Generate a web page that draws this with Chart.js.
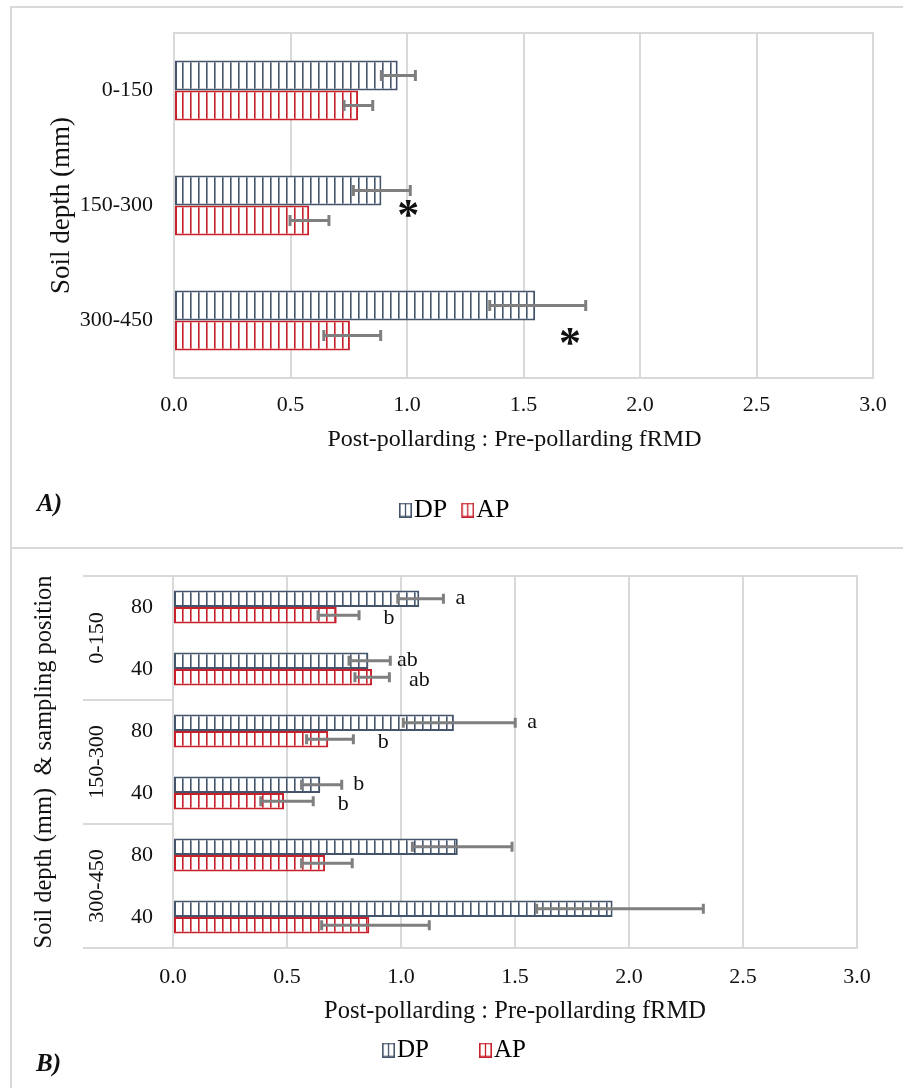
<!DOCTYPE html>
<html>
<head>
<meta charset="utf-8">
<script src="https://cdn.jsdelivr.net/npm/chart.js@4.4.1/dist/chart.umd.min.js"></script>
<style>
  html, body { margin: 0; padding: 0; background: #fff; }
  body { width: 903px; height: 1088px; position: relative; overflow: hidden; }
  .panel { position: absolute; box-sizing: border-box; border: 0 solid #D9D9D9; }
  #panelA { left: 10px; top: 6px; width: 900px; height: 543px; border-width: 2px 0 2px 2px; }
  #panelB { left: 10px; top: 548px; width: 900px; height: 560px; border-width: 0 0 0 2px; }
  canvas { position: absolute; left: 0; }
  #chartA { top: 0; }
  #chartB { top: 548px; }
  .tag { position: absolute; font: italic bold 25px "Liberation Serif", "Times New Roman", serif; color: #111; line-height: 25px; }
</style>
</head>
<body>
<div class="panel" id="panelA"></div>
<div class="panel" id="panelB"></div>
<canvas id="chartA" width="903" height="548"></canvas>
<canvas id="chartB" width="903" height="540"></canvas>
<div class="tag" style="left:37px; top:490px;">A)</div>
<div class="tag" style="left:36px; top:1050px;">B)</div>
<script>
// ---- Panel A: ratio by soil depth ----
const depthLabels = ['0-150', '150-300', '300-450'];
const dpA      = [0.96, 0.89, 1.55];
const dpAMinus = [0.070, 0.120, 0.195];
const dpAPlus  = [0.076, 0.124, 0.217];
const apA      = [0.79, 0.58, 0.755];
const apAMinus = [0.060, 0.082, 0.112];
const apAPlus  = [0.063, 0.085, 0.132];
// significance stars: category index and x value where each sits
const starCats   = [1, 2];
const starValues = [1.005, 1.70];

// ---- Panel B: ratio by soil depth and sampling position ----
const depthGroups    = ['0-150', '150-300', '300-450'];
const positionLabels = ['80', '40', '80', '40', '80', '40'];
const dpB      = [1.080, 0.857, 1.232, 0.646, 1.249, 1.928];
const dpBMinus = [0.094, 0.085, 0.222, 0.082, 0.199, 0.333];
const dpBPlus  = [0.106, 0.096, 0.269, 0.094, 0.238, 0.398];
const apB      = [0.718, 0.873, 0.681, 0.487, 0.667, 0.861];
const apBMinus = [0.082, 0.075, 0.095, 0.102, 0.103, 0.209];
const apBPlus  = [0.098, 0.076, 0.110, 0.128, 0.119, 0.263];
const dpLetters = ['a', 'ab', 'a', 'b', '', ''];
const apLetters = ['b', 'ab', 'b', 'b', '', ''];

const seriesNames = ['DP', 'AP'];
const xMin = 0, xMax = 3, xStep = 0.5;
const xTitle = 'Post-pollarding : Pre-pollarding fRMD';

// ---- styling ----
const SERIF = '"Liberation Serif", "Times New Roman", serif';
const TEXT = '#111111';
const GRID = '#D9D9D9';
const DP_COLOR = '#44546A';
const AP_COLOR = '#C8202B';
const ERR_COLOR = '#7F7F7F';
const seriesColors = [DP_COLOR, AP_COLOR];
Chart.defaults.font.family = SERIF;
Chart.defaults.color = TEXT;

function stripePattern(color) {
  const tile = document.createElement('canvas');
  tile.width = 8; tile.height = 8;
  const g = tile.getContext('2d');
  g.fillStyle = '#ffffff';
  g.fillRect(0, 0, 8, 8);
  g.fillStyle = color;
  g.fillRect(6, 0, 1.6, 8);
  return g.createPattern(tile, 'repeat');
}

// legend key: small striped box sitting at the right end of a wider transparent canvas
function legendSwatch(color, width) {
  const c = document.createElement('canvas');
  c.width = width; c.height = 15;
  const g = c.getContext('2d');
  const x0 = width - 13;
  g.fillStyle = '#ffffff';
  g.fillRect(x0, 0, 13, 15);
  g.strokeStyle = color;
  g.lineWidth = 1.6;
  g.strokeRect(x0 + 0.8, 0.8, 11.4, 13.4);
  g.lineWidth = 1.3;
  g.beginPath(); g.moveTo(x0 + 6.5, 1); g.lineTo(x0 + 6.5, 14); g.stroke();
  return c;
}

function barSet(label, data, minus, plus, color, letters) {
  return {
    label, data, errMinus: minus, errPlus: plus, letters: letters || [],
    backgroundColor: stripePattern(color),
    borderColor: color, borderWidth: 2, borderSkipped: false
  };
}

// error bars (asymmetric) drawn through the x scale
const errorBars = {
  id: 'errorBars',
  afterDatasetsDraw(chart, args, opts) {
    const ctx = chart.ctx, xs = chart.scales.x, cap = opts.cap || 10;
    ctx.save();
    ctx.strokeStyle = ERR_COLOR;
    ctx.lineWidth = 3;
    chart.data.datasets.forEach((ds, i) => {
      chart.getDatasetMeta(i).data.forEach((bar, j) => {
        const v = ds.data[j];
        const lo = xs.getPixelForValue(v - ds.errMinus[j]);
        const hi = xs.getPixelForValue(v + ds.errPlus[j]);
        const y = bar.y;
        ctx.beginPath();
        ctx.moveTo(lo, y); ctx.lineTo(hi, y);
        ctx.moveTo(lo, y - cap / 2); ctx.lineTo(lo, y + cap / 2);
        ctx.moveTo(hi, y - cap / 2); ctx.lineTo(hi, y + cap / 2);
        ctx.stroke();
      });
    });
    ctx.restore();
  }
};

// top edge of the plot frame
const plotFrame = {
  id: 'plotFrame',
  afterDraw(chart) {
    const {ctx, chartArea: a} = chart;
    ctx.save();
    ctx.strokeStyle = GRID; ctx.lineWidth = 2;
    ctx.beginPath(); ctx.moveTo(a.left - 1, a.top); ctx.lineTo(a.right + 1, a.top); ctx.stroke();
    ctx.restore();
  }
};

const stars = {
  id: 'stars',
  afterDatasetsDraw(chart, args, opts) {
    const ctx = chart.ctx, xs = chart.scales.x, ys = chart.scales.y;
    ctx.save();
    ctx.fillStyle = TEXT;
    ctx.font = 'bold ' + opts.size + 'px ' + SERIF;
    ctx.textAlign = 'left'; ctx.textBaseline = 'alphabetic';
    const m = ctx.measureText('*');
    starCats.forEach((c, k) => {
      const cx = xs.getPixelForValue(starValues[k]);
      const cy = ys.getPixelForValue(c) + opts.dy[k];
      const X = cx - (m.actualBoundingBoxRight - m.actualBoundingBoxLeft) / 2;
      const Y = cy + (m.actualBoundingBoxAscent - m.actualBoundingBoxDescent) / 2;
      ctx.fillText('*', X, Y);
    });
    ctx.restore();
  }
};

const letterMarks = {
  id: 'letterMarks',
  afterDatasetsDraw(chart, args, opts) {
    const ctx = chart.ctx, xs = chart.scales.x;
    ctx.save();
    ctx.fillStyle = TEXT;
    ctx.font = '22px ' + SERIF;
    ctx.textAlign = 'center'; ctx.textBaseline = 'alphabetic';
    chart.data.datasets.forEach((ds, i) => {
      const sh = opts.shift[i];
      chart.getDatasetMeta(i).data.forEach((bar, j) => {
        const t = ds.letters[j];
        if (!t) return;
        const px = xs.getPixelForValue(ds.data[j] + ds.errPlus[j]) + sh.dx;
        ctx.fillText(t, px, bar.y + sh.dy);
      });
    });
    ctx.restore();
  }
};

// outer level of the two-level category axis (depth groups)
const groupAxis = {
  id: 'groupAxis',
  afterDraw(chart, args, opts) {
    const ctx = chart.ctx, ys = chart.scales.y, a = chart.chartArea;
    const half = (ys.getPixelForValue(1) - ys.getPixelForValue(0)) / 2;
    ctx.save();
    ctx.strokeStyle = GRID; ctx.lineWidth = 2;
    ctx.fillStyle = TEXT;
    ctx.font = '22px ' + SERIF;
    ctx.textAlign = 'center'; ctx.textBaseline = 'middle';
    depthGroups.forEach((g, k) => {
      const top = ys.getPixelForValue(2 * k) - half;
      const bottom = ys.getPixelForValue(2 * k + 1) + half;
      ctx.beginPath();
      ctx.moveTo(opts.lineStart, top); ctx.lineTo(a.left, top);
      ctx.moveTo(opts.lineStart, bottom); ctx.lineTo(a.left, bottom);
      ctx.stroke();
      ctx.save();
      ctx.translate(opts.labelX, (top + bottom) / 2);
      ctx.rotate(-Math.PI / 2);
      ctx.fillText(g, 0, 0);
      ctx.restore();
    });
    ctx.restore();
  }
};

function xAxis(height, tickPad, titleText, titleSize, titlePad) {
  return {
    type: 'linear', min: xMin, max: xMax,
    grid: { color: GRID, lineWidth: 2, drawTicks: false },
    border: { color: GRID, width: 2 },
    ticks: { stepSize: xStep, padding: tickPad, font: { size: 22 }, color: TEXT, maxRotation: 0,
             callback: v => Number(v).toFixed(1) },
    title: { display: true, text: titleText, color: TEXT, font: { size: titleSize, lineHeight: 1.2 },
             padding: { top: 0, bottom: titlePad } },
    afterFit: s => { s.height = height; }
  };
}

function yAxis(width, labelGap, title, titleSize, titlePad) {
  return {
    type: 'category',
    grid: { display: false, drawTicks: true, tickLength: labelGap },
    border: { display: true, color: GRID, width: 2 },
    ticks: { padding: 0, font: { size: 22 }, color: TEXT, autoSkip: false },
    title: { display: true, text: title, color: TEXT, font: { size: titleSize, lineHeight: 1.2 },
             padding: { top: titlePad, bottom: 0 } },
    afterFit: s => { s.width = width; }
  };
}

function legendOpts(size, padding) {
  const keys = seriesColors.map(c => legendSwatch(c, size - 3));
  return {
    position: 'bottom',
    labels: {
      usePointStyle: true, boxWidth: 1, padding, color: TEXT, font: { size },
      generateLabels: chart => chart.data.datasets.map((ds, i) => ({
        text: ds.label, pointStyle: keys[i], datasetIndex: i, hidden: false,
        fillStyle: ds.borderColor, strokeStyle: ds.borderColor, lineWidth: 0
      }))
    }
  };
}

const common = { responsive: false, animation: false, devicePixelRatio: 1, indexAxis: 'y' };

new Chart(document.getElementById('chartA'), {
  type: 'bar',
  data: {
    labels: depthLabels,
    datasets: [
      barSet(seriesNames[0], dpA, dpAMinus, dpAPlus, DP_COLOR),
      barSet(seriesNames[1], apA, apAMinus, apAPlus, AP_COLOR)
    ]
  },
  options: Object.assign({}, common, {
    layout: { padding: { left: 36.4, right: 30, top: 33, bottom: 15 } },
    datasets: { bar: { barPercentage: 1, categoryPercentage: 0.522 } },
    scales: {
      x: xAxis(104, 14, xTitle + '   ', 24, 27.6),
      y: yAxis(137.6, 21, 'Soil depth (mm)', 27, 9.4)
    },
    plugins: {
      legend: legendOpts(26, 15),
      tooltip: { enabled: false },
      errorBars: { cap: 11 },
      stars: { size: 44, dy: [3, 16] }
    }
  }),
  plugins: [errorBars, plotFrame, stars]
});

new Chart(document.getElementById('chartB'), {
  type: 'bar',
  data: {
    labels: positionLabels,
    datasets: [
      barSet(seriesNames[0], dpB, dpBMinus, dpBPlus, DP_COLOR, dpLetters),
      barSet(seriesNames[1], apB, apBMinus, apBPlus, AP_COLOR, apLetters)
    ]
  },
  options: Object.assign({}, common, {
    layout: { padding: { left: 52.5, right: 46, top: 28, bottom: 15.5 } },
    datasets: { bar: { barPercentage: 1, categoryPercentage: 0.532 } },
    scales: {
      x: xAxis(38, 15.8, xTitle, 24.5, -40.7),
      y: yAxis(120.5, 20, 'Soil depth (mm)  & sampling position', 24.5, -22.2)
    },
    plugins: {
      legend: legendOpts(25, 51.5),
      tooltip: { enabled: false },
      errorBars: { cap: 10 },
      letterMarks: { shift: [{ dx: 17, dy: 5 }, { dx: 30, dy: 8.5 }] },
      groupAxis: { lineStart: 83, labelX: 97 }
    }
  }),
  plugins: [errorBars, plotFrame, letterMarks, groupAxis]
});
</script>
</body>
</html>
